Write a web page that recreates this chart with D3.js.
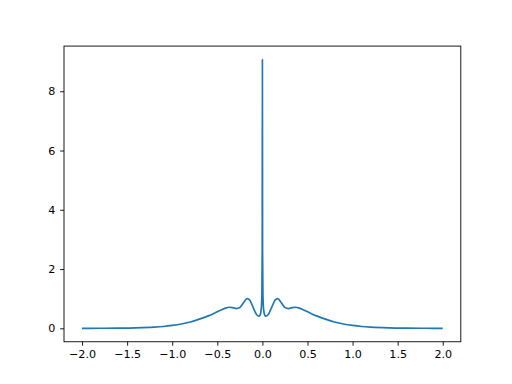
<!DOCTYPE html>
<html>
<head>
<meta charset="utf-8">
<script src="https://cdn.jsdelivr.net/npm/d3@7"></script>
<style>
  body { margin: 0; background: #fff; }
  svg { display: block; }
  .tick text { font-family: 'DejaVu Sans', sans-serif; font-size: 11.1px; fill: #000; }
</style>
</head>
<body>
<div id="chart"></div>
<script>
'use strict'

// values (left half, mirrored for the right half)
const HALF_X = [-2.0, -1.8, -1.6, -1.4, -1.2, -1.1, -1.0, -0.9, -0.8, -0.7, -0.6, -0.5, -0.45, -0.4, -0.37, -0.33,
  -0.29, -0.25, -0.21, -0.17, -0.14, -0.11, -0.08, -0.06, -0.04, -0.025, -0.014, -0.006, -0.002]
const HALF_Y = [0.0, 0.002, 0.006, 0.016, 0.04, 0.062, 0.097, 0.145, 0.215, 0.31, 0.42, 0.56, 0.63, 0.69, 0.71, 0.70,
  0.665, 0.70, 0.86, 1.0, 0.95, 0.76, 0.55, 0.45, 0.41, 0.45, 0.62, 1.1, 2.6]
const PEAK = { x: 0, y: 9.07 }

const X_TICKS = [-2.0, -1.5, -1.0, -0.5, 0.0, 0.5, 1.0, 1.5, 2.0]
const Y_TICKS = [0, 2, 4, 6, 8]

const WIDTH = 512
const HEIGHT = 384
const MARGIN = { top: 46.08, right: 51.2, bottom: 42.24, left: 64 }
const COLOR = '#1f77b4'

const data = HALF_X.map((x, i) => ({ x, y: HALF_Y[i] }))
  .concat([PEAK])
  .concat(HALF_X.map((x, i) => ({ x: -x, y: HALF_Y[i] })).reverse())

const w = WIDTH - MARGIN.left - MARGIN.right
const h = HEIGHT - MARGIN.top - MARGIN.bottom

const svg = d3.select('#chart').append('svg')
  .attr('width', WIDTH)
  .attr('height', HEIGHT)

const g = svg.append('g')
  .attr('transform', 'translate(' + MARGIN.left + ',' + MARGIN.top + ')')

// matplotlib style 5% padding
const xExt = d3.extent(data, d => d.x)
const yExt = d3.extent(data, d => d.y)
const xPad = (xExt[1] - xExt[0]) * 0.05
const yPad = (yExt[1] - yExt[0]) * 0.05

const x = d3.scaleLinear()
  .domain([xExt[0] - xPad, xExt[1] + xPad])
  .range([0, w])

const y = d3.scaleLinear()
  .domain([yExt[0] - yPad, yExt[1] + yPad])
  .range([h, 0])

const minus = s => s.replace('-', '\u2212')

const xAxis = g.append('g')
  .attr('transform', 'translate(0,' + h + ')')
  .call(d3.axisBottom(x).tickValues(X_TICKS).tickSize(3.9).tickPadding(4.9)
    .tickFormat(d => minus(d3.format('.1f')(d))))

const yAxis = g.append('g')
  .call(d3.axisLeft(y).tickValues(Y_TICKS).tickSize(3.9).tickPadding(4.9)
    .tickFormat(d => minus(d3.format('d')(d))))

xAxis.select('.domain').remove()
yAxis.select('.domain').remove()
g.selectAll('.tick line').attr('stroke', '#000').attr('stroke-width', 0.9)

const line = d3.line()
  .x(d => x(d.x))
  .y(d => y(d.y))
  .curve(d3.curveMonotoneX)

g.append('path')
  .datum(data)
  .style('fill', 'none')
  .style('stroke', COLOR)
  .style('stroke-width', '1.67px')
  .style('stroke-linejoin', 'round')
  .attr('d', line)

g.append('rect')
  .attr('width', w)
  .attr('height', h)
  .style('fill', 'none')
  .style('stroke', '#000')
  .style('stroke-width', '0.9px')
</script>
</body>
</html>
